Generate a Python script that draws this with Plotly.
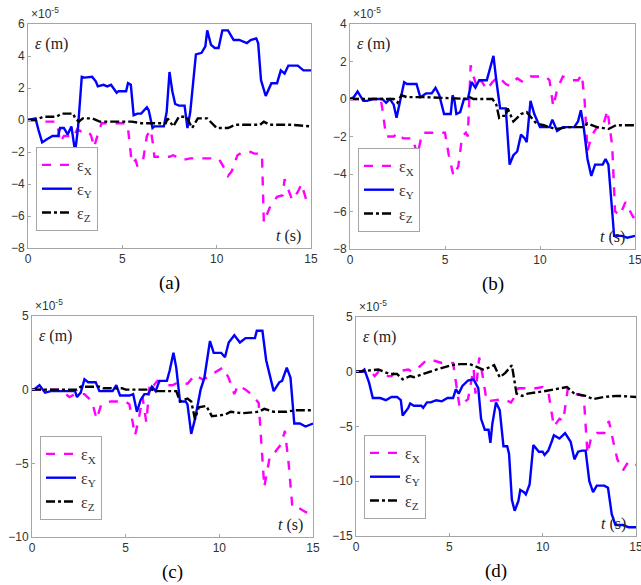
import plotly.graph_objects as go

# ---------------- data (values in units of 1e-5 m) ----------------
# Panel (a)
a_tY = [0, 0.4, 0.55, 0.75, 1.0, 1.3, 1.6, 1.7, 1.9, 2.1, 2.3, 2.5, 2.65, 2.85, 3.0, 3.4, 3.6, 3.7, 4.0, 4.2, 4.4, 4.7, 4.8, 5.2, 5.3, 5.45, 5.6, 5.8, 6.0, 6.3, 6.4, 6.6, 6.7, 7.2, 7.35, 7.5, 7.65, 7.8, 8.0, 8.3, 8.45, 8.6, 8.9, 9.2, 9.4, 9.5, 9.7, 9.9, 10.1, 10.3, 10.6, 10.9, 11.2, 11.6, 11.8, 12.1, 12.2, 12.35, 12.6, 12.9, 13.2, 13.4, 13.6, 13.8, 14.3, 14.6, 15]
a_Y = [0, 0.1, -0.6, -1.4, -1.2, -1.0, -1.0, -0.5, -0.5, -0.9, -0.4, -2.0, -0.5, 2.7, 2.65, 2.7, 2.4, 2.1, 2.2, 2.1, 2.2, 1.7, 1.8, 1.8, 2.3, 2.2, 0.3, 0.4, 0.4, 0.8, 0.6, -0.5, -0.4, -0.4, 0.5, 3.0, 1.8, 1.0, 0.9, 0.9, -0.5, 0.5, 4.1, 4.2, 4.6, 5.6, 4.7, 4.5, 4.5, 5.6, 5.6, 5.0, 5.0, 4.8, 5.0, 5.1, 4.8, 2.5, 1.5, 2.3, 2.3, 3.1, 2.9, 3.4, 3.4, 3.1, 3.1]
a_tX = [0, 0.7, 0.8, 1.5, 1.6, 1.7, 1.9, 2.2, 2.4, 2.6, 2.8, 3.2, 3.35, 3.5, 3.7, 3.9, 5.2, 5.3, 5.5, 5.7, 5.8, 6.1, 6.3, 6.5, 6.6, 6.7, 7.5, 7.7, 8.2, 8.6, 10.1, 10.4, 10.6, 10.8, 11.1, 11.4, 11.8, 12.0, 12.4, 12.5, 12.8, 13.2, 13.5, 13.6, 14.0, 14.3, 14.5, 14.8, 15]
a_X = [0, 0, -0.1, -0.1, -0.6, -1.4, -1.0, -1.0, -1.1, -0.6, -0.7, -0.7, -1.0, -1.7, -0.9, -0.2, -0.2, -0.5, -2.7, -2.5, -2.9, -2.5, -1.0, -0.6, -1.3, -2.3, -2.3, -2.2, -2.5, -2.4, -2.4, -3.0, -3.5, -3.2, -2.2, -2.0, -2.0, -2.1, -2.1, -6.4, -5.5, -4.8, -4.7, -3.7, -5.0, -4.5, -4.0, -5.2, -5.2]
a_tZ = [0, 0.4, 0.8, 1.5, 1.8, 2.4, 2.5, 2.7, 2.9, 3.4, 3.8, 5.2, 5.5, 6.0, 7.3, 7.4, 7.7, 8.0, 8.4, 8.7, 9.0, 9.5, 10.0, 10.6, 11.0, 12.3, 12.5, 12.8, 14.0, 15]
a_Z = [0, 0, 0.2, 0.2, 0.4, 0.4, 0.1, -0.1, 0.1, 0.1, -0.1, -0.1, -0.1, -0.2, -0.2, 0.1, -0.4, 0.2, 0.2, -0.5, 0.1, 0.1, -0.5, -0.5, -0.3, -0.3, -0.1, -0.3, -0.3, -0.4]

# Panel (b)
b_tY = [0, 0.2, 0.4, 0.7, 0.9, 1.2, 1.7, 1.9, 2.1, 2.3, 2.45, 2.7, 2.85, 3.0, 3.5, 3.7, 4.0, 4.3, 4.5, 4.7, 4.95, 5.3, 5.4, 5.5, 5.6, 5.8, 6.0, 6.2, 6.4, 6.6, 6.8, 7.2, 7.3, 7.55, 7.7, 7.9, 8.2, 8.4, 8.6, 8.8, 9.0, 9.2, 9.3, 9.5, 9.7, 10.0, 10.5, 10.65, 10.9, 11.2, 11.8, 12.0, 12.15, 12.3, 12.5, 12.7, 12.9, 13.3, 13.45, 13.6, 13.8, 13.9, 14.3, 14.6, 15]
b_Y = [0, 0.1, 0.4, -0.1, -0.1, 0, 0, -0.2, 0, -0.3, -1.0, 0.3, 0.9, 0.8, 0.8, 0.1, 0.3, 0.3, 0.6, 0.2, -0.8, -0.8, 0.2, -0.1, -0.8, -0.7, 0, 0, 0.9, 0.6, 1.0, 1.0, 1.4, 2.3, 1.0, -0.5, -0.5, -3.5, -3.0, -2.8, -1.9, -2.1, -2.3, -0.1, -0.8, -1.5, -1.5, -1.1, -1.7, -1.5, -1.5, -1.2, -0.6, -1.5, -3.2, -4.1, -3.5, -3.5, -3.2, -3.5, -6.0, -7.3, -7.3, -7.4, -7.3]
b_tX = [0, 1.5, 1.6, 1.7, 1.9, 2.3, 2.5, 2.8, 3.3, 3.55, 3.8, 4.2, 5.0, 5.2, 5.45, 5.7, 5.9, 6.1, 6.2, 6.35, 6.5, 6.7, 6.9, 7.2, 7.5, 7.8, 8.2, 8.4, 8.8, 9.1, 9.5, 10.3, 10.5, 10.7, 10.9, 11.2, 11.7, 12.0, 12.2, 12.35, 12.5, 12.7, 13.0, 13.3, 13.55, 13.8, 13.95, 14.2, 14.5, 14.9, 15]
b_X = [0, 0, 0.1, -0.5, -2.0, -2.0, -1.8, -2.1, -2.1, -3.0, -1.8, -1.8, -1.8, -3.0, -4.1, -3.6, -2.0, -1.8, -2.0, 1.8, 1.2, 0.6, 1.0, 0.5, 0.9, 1.2, 0.8, 0.7, 1.1, 0.9, 1.2, 1.2, 1.0, -0.4, 0.5, 1.2, 1.0, 1.0, 1.3, -0.1, -2.8, -2.0, -1.5, -1.5, -0.6, -2.5, -6.0, -6.2, -5.5, -6.3, -6.3]
b_tZ = [0, 2.3, 2.5, 2.7, 3.0, 4.0, 6.2, 6.3, 6.5, 7.5, 7.7, 7.85, 8.0, 8.2, 8.3, 8.6, 9.0, 9.3, 9.8, 10.2, 10.8, 11.5, 12.3, 12.5, 13.0, 13.6, 14.0, 15]
b_Z = [0, 0, -0.2, 0.2, 0.1, 0.1, 0, 0.1, 0, 0, -0.3, -1.0, -0.9, -0.9, -0.5, -1.2, -0.8, -0.7, -1.3, -1.4, -1.6, -1.5, -1.5, -1.3, -1.5, -1.6, -1.4, -1.4]

# Panel (c)
c_tY = [0, 0.1, 0.4, 0.7, 1.0, 2.3, 2.4, 2.6, 2.8, 3.0, 3.4, 3.6, 4.3, 4.5, 4.7, 5.2, 5.4, 5.6, 5.8, 6.0, 6.2, 6.4, 6.6, 6.8, 7.2, 7.35, 7.55, 7.7, 7.9, 8.2, 8.3, 8.5, 8.7, 9.0, 9.2, 9.5, 9.7, 10.1, 10.3, 10.5, 10.8, 11.1, 11.4, 11.9, 12.0, 12.3, 12.5, 12.7, 12.9, 13.2, 13.35, 13.6, 13.8, 14.0, 14.3, 14.6, 15]
c_Y = [0, 0, 0.3, -0.2, -0.1, -0.1, -0.5, -0.2, 0.7, 0.5, 0.5, -0.1, -0.1, 0.3, -0.4, -0.4, -0.3, -1.5, -0.7, -0.3, -0.3, 0.2, -0.1, 0.6, 0.6, 1.3, 2.5, 1.5, -0.8, -0.8, -1.0, -3.0, -2.0, 0, 0.8, 3.3, 2.5, 2.5, 2.2, 3.2, 3.7, 3.2, 3.5, 3.5, 4.0, 4.0, 2.0, 1.0, -0.1, 0.5, 0.6, 1.5, 0.8, -2.3, -2.3, -2.5, -2.3]
c_tX = [0, 1.5, 2.0, 2.3, 2.8, 3.2, 3.45, 3.7, 4.2, 5.0, 5.2, 5.5, 5.7, 5.9, 6.1, 6.3, 6.5, 6.7, 7.0, 7.2, 7.5, 7.8, 8.3, 8.7, 9.1, 9.5, 9.8, 10.2, 10.5, 10.8, 11.0, 11.4, 11.8, 12.1, 12.4, 12.7, 13.0, 13.3, 13.5, 13.7, 13.9, 14.2, 14.6, 15]
c_X = [0, 0, -0.5, -0.3, -0.3, -0.8, -2.0, -1.0, -0.8, -0.8, -1.0, -3.1, -2.0, -0.5, -2.2, 0.5, 0.3, 0.6, 0.5, 0.3, 0.3, 0.5, 0.4, 1.0, 0.7, 0.9, 1.2, 1.5, 0.8, -0.3, 0.3, 0, -0.4, -0.9, -6.6, -4.5, -4.2, -3.7, -2.8, -5.0, -8.0, -8.0, -8.3, -8.5]
c_tZ = [0, 2.4, 2.6, 3.6, 3.8, 4.8, 5.0, 6.4, 6.6, 7.7, 7.9, 8.3, 8.5, 8.7, 8.9, 9.3, 9.6, 10.3, 10.6, 11.2, 12.1, 12.4, 12.9, 13.6, 14.0, 15]
c_Z = [0, 0, 0.2, 0.2, 0.1, 0.1, 0, 0, -0.1, -0.1, -0.8, -0.6, -0.8, -2.0, -1.2, -1.1, -1.8, -1.7, -1.5, -1.6, -1.5, -1.3, -1.5, -1.5, -1.4, -1.4]

# Panel (d)
d_tY = [0, 0.3, 0.45, 0.7, 0.9, 1.3, 1.6, 1.9, 2.2, 2.4, 2.5, 2.8, 2.9, 3.1, 3.5, 3.6, 3.8, 4.0, 4.3, 4.6, 4.9, 5.2, 5.35, 5.5, 5.7, 6.0, 6.3, 6.55, 6.7, 6.9, 7.1, 7.2, 7.3, 7.5, 7.7, 7.9, 8.1, 8.2, 8.35, 8.5, 8.7, 8.8, 9.0, 9.1, 9.3, 9.5, 9.8, 10.0, 10.1, 10.3, 10.5, 10.6, 10.9, 11.2, 11.5, 11.7, 11.9, 12.1, 12.3, 12.5, 12.7, 12.9, 13.3, 13.5, 13.7, 13.9, 14.3, 14.6, 15]
d_Y = [0, 0, 0.2, -1.0, -2.4, -2.4, -2.6, -2.3, -2.3, -2.6, -4.0, -3.3, -2.9, -3.1, -3.1, -3.3, -2.8, -2.8, -2.6, -2.7, -2.4, -2.4, -1.6, -2.0, -1.3, -0.8, -0.7, -1.5, -4.3, -5.3, -5.3, -6.5, -4.8, -2.8, -3.5, -6.8, -6.8, -7.5, -11.7, -12.7, -11.8, -10.8, -11.0, -11.2, -10.3, -6.7, -7.3, -7.3, -7.6, -7.2, -6.3, -5.8, -6.1, -5.6, -6.4, -8.0, -7.3, -7.2, -7.2, -10.0, -11.0, -10.4, -10.4, -10.6, -13.0, -14.0, -14.0, -14.2, -14.2]
d_tX = [0, 0.8, 1.0, 1.2, 1.6, 1.9, 2.1, 2.5, 2.8, 3.0, 3.3, 3.8, 4.2, 4.6, 5.2, 5.4, 5.55, 5.8, 6.0, 6.3, 6.4, 6.6, 6.8, 7.0, 7.5, 7.9, 8.3, 8.5, 8.7, 9.0, 9.3, 10.0, 10.3, 10.6, 10.9, 11.1, 11.35, 11.7, 12.2, 12.4, 12.6, 12.9, 13.3, 13.55, 13.8, 14.0, 14.3, 14.6, 15]
d_X = [0, 0, -0.4, 0, -0.4, -0.4, 0, 0.1, 0.2, 0, 0.3, 1.1, 1.0, 0.8, 0.8, -1.5, -3.2, -2.8, -2.5, 0.3, -2.0, 1.3, -0.5, -2.7, -2.6, -2.5, -2.8, -2.3, -1.5, -1.5, -1.6, -1.4, -1.8, -5.0, -4.3, -4.5, -1.5, -2.0, -2.2, -7.5, -6.0, -5.6, -5.6, -4.5, -6.5, -8.0, -9.0, -8.2, -8.5]
d_tZ = [0, 0.7, 1.2, 1.8, 2.2, 2.5, 2.9, 3.1, 3.6, 4.3, 5.1, 5.6, 6.1, 6.4, 6.8, 7.0, 7.4, 7.7, 8.0, 8.35, 8.6, 8.9, 9.2, 10.0, 10.6, 11.3, 11.7, 12.3, 12.7, 13.3, 14.0, 15]
d_Z = [0, 0.1, 0.2, -0.2, -0.2, -0.7, -0.4, -0.5, -0.2, 0.2, 0.6, 0.7, 0.7, 0.5, 0.2, 0.3, 0.6, -0.5, -0.1, 0.6, -2.0, -2.2, -2.0, -1.8, -1.6, -1.4, -2.0, -2.2, -2.5, -2.3, -2.2, -2.3]

panel_labels = ["(a)", "(b)", "(c)", "(d)"]
y_ranges = [(-8, 6), (-8, 4), (-10, 5), (-15, 5)]
y_dticks = [2, 2, 5, 5]
x_range = (0, 15)
x_ticks = [0, 5, 10, 15]
series_names = ["ε<sub>X</sub>", "ε<sub>Y</sub>", "ε<sub>Z</sub>"]
series_colors = ["#FF00FF", "#0000FF", "#000000"]
series_dash = ["dash", "solid", "dashdot"]

panels = [
    [(a_tX, a_X), (a_tY, a_Y), (a_tZ, a_Z)],
    [(b_tX, b_X), (b_tY, b_Y), (b_tZ, b_Z)],
    [(c_tX, c_X), (c_tY, c_Y), (c_tZ, c_Z)],
    [(d_tX, d_X), (d_tY, d_Y), (d_tZ, d_Z)],
]

# ---------------- layout geometry (pixels of the browser window) ----------------
W, H = 641, 585
boxes = [  # left, right, top, bottom in window pixels
    (28, 311, 24, 248),
    (350, 635, 24, 249),
    (32, 313, 316, 537),
    (356, 636, 317, 536),
]

def px(x):
    return x / W

def py(y):
    return 1 - y / H

fig = go.Figure()
annotations = []
for i, (series, box) in enumerate(zip(panels, boxes)):
    n = i + 1
    xa = "x" if n == 1 else f"x{n}"
    ya = "y" if n == 1 else f"y{n}"
    lg = "legend" if n == 1 else f"legend{n}"
    for k, (t, v) in enumerate(series):
        fig.add_trace(go.Scatter(
            x=t, y=v, mode="lines", name=series_names[k],
            line=dict(color=series_colors[k], width=2.4, dash=series_dash[k]),
            xaxis=xa, yaxis=ya, legend=lg, showlegend=True,
        ))
    l, r, t_, b = box
    axcommon = dict(showgrid=False, zeroline=False, showline=True, mirror=True, automargin=False,
                    ticklabeloverflow="allow",
                    linecolor="#a6a6a6", linewidth=1, ticks="inside", ticklen=3,
                    tickcolor="#a6a6a6", tickfont=dict(family="Liberation Sans, Arial", size=12, color="#333333"))
    fig.update_layout(**{
        ("xaxis" if n == 1 else f"xaxis{n}"): dict(domain=[px(l), px(r)], range=list(x_range),
                                                     tickvals=x_ticks, anchor=ya, **axcommon),
        ("yaxis" if n == 1 else f"yaxis{n}"): dict(domain=[py(b), py(t_)], range=list(y_ranges[i]),
                                                     dtick=y_dticks[i], tick0=0, anchor=xa, **axcommon),
        lg: dict(x=px(l + 8), y=py(b - 17), xanchor="left", yanchor="bottom",
                 bgcolor="white", bordercolor="#a6a6a6", borderwidth=1,
                 font=dict(family="Liberation Serif, Times New Roman", size=16, color="#333333"),
                 itemwidth=30, tracegroupgap=0),
    })
    # exponent label
    annotations.append(dict(x=px(l + 1), y=py(t_ - 1), xref="paper", yref="paper", xanchor="left", yanchor="bottom",
                            text="×10<sup>-5</sup>", showarrow=False,
                            font=dict(family="Liberation Sans, Arial", size=12, color="#333333")))
    # epsilon (m)
    annotations.append(dict(x=px(l + 5), y=py(t_ + 20), xref="paper", yref="paper", xanchor="left", yanchor="middle",
                            text="<i>ε</i> (m)", showarrow=False,
                            font=dict(family="Liberation Serif, Times New Roman", size=16, color="#222222")))
    # t (s)
    annotations.append(dict(x=px(r - 8), y=py(b - 12), xref="paper", yref="paper", xanchor="right", yanchor="middle",
                            text="<i>t</i> (s)", showarrow=False,
                            font=dict(family="Liberation Serif, Times New Roman", size=16, color="#222222")))
    # panel label
    annotations.append(dict(x=px((l + r) / 2), y=py(b + 35), xref="paper", yref="paper", xanchor="center", yanchor="middle",
                            text=panel_labels[i], showarrow=False,
                            font=dict(family="Liberation Serif, Times New Roman", size=19, color="#000000")))

fig.update_layout(width=W, height=H, margin=dict(l=0, r=0, t=0, b=0),
                  paper_bgcolor="white", plot_bgcolor="white", annotations=annotations)
fig.write_html("out.html", config={"displayModeBar": False},
               post_script="document.body.style.margin='0';document.body.style.overflow='hidden';")
